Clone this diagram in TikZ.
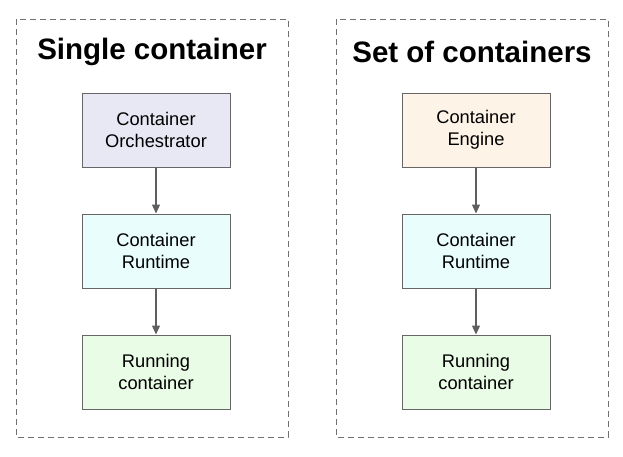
\documentclass[tikz,border=0pt]{standalone}
\usepackage{fontspec}
\setmainfont{Liberation Sans}
\usetikzlibrary{arrows.meta}
\definecolor{bordergray}{HTML}{666666}
\definecolor{dashgray}{HTML}{707070}
\definecolor{arrowgray}{HTML}{5F5F5F}
\definecolor{orchfill}{HTML}{E8E8F5}
\definecolor{engfill}{HTML}{FDF3E7}
\definecolor{rtfill}{HTML}{E9FDFD}
\definecolor{runfill}{HTML}{E9FCE6}
\tikzset{
  group/.style={draw=dashgray, line width=1pt, dash pattern=on 6pt off 4pt},
  comp/.style={draw=bordergray, line width=1pt, minimum width=148pt, minimum height=74pt, align=center, inner sep=0pt, font=\fontsize{18.3}{22}\selectfont},
  ttl/.style={font=\fontsize{29.5}{34}\selectfont\bfseries},
  flow/.style={draw=arrowgray, line width=1.3pt, -{Triangle[length=9pt,width=8pt]}}
}
\begin{document}
\begin{tikzpicture}[x=1pt,y=-1pt]
\useasboundingbox (0,0) rectangle (623,456);
\draw[group] (16,19) rectangle (288,437);
\draw[group] (336,19) rectangle (608,437);
\node[ttl] (t1) at (152,52) {Single container};
\node[ttl] (t2) at (472,52) {Set of containers};
\node[comp, fill=orchfill] (a1) at (156,130) {Container\\Orchestrator};
\node[comp, fill=rtfill] (b1) at (156,251) {Container\\Runtime};
\node[comp, fill=runfill] (c1) at (156,372) {Running\\container};
\node[comp, fill=engfill] (a2) at (476,130) {Container\\Engine};
\node[comp, fill=rtfill] (b2) at (476,251) {Container\\Runtime};
\node[comp, fill=runfill] (c2) at (476,372) {Running\\container};
\draw[flow] (a1) -- (b1);
\draw[flow] (b1) -- (c1);
\draw[flow] (a2) -- (b2);
\draw[flow] (b2) -- (c2);
\end{tikzpicture}
\end{document}
